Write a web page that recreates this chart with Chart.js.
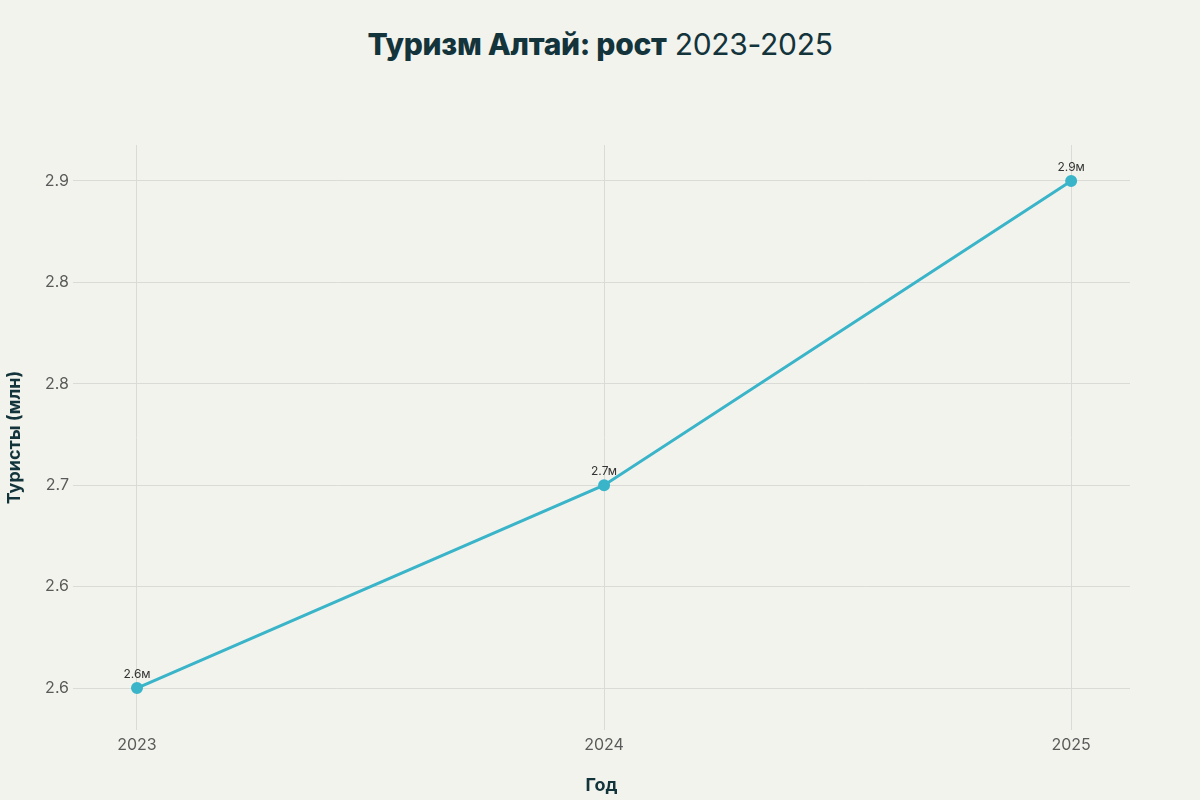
<!DOCTYPE html>
<html>
<head>
<meta charset="utf-8">
<script src="https://cdn.jsdelivr.net/npm/chart.js@4.4.1/dist/chart.umd.min.js"></script>
<style>
  html, body { margin: 0; padding: 0; background: #f3f3ee; }
  #wrap { position: relative; width: 1200px; height: 800px; }
  #title {
    position: absolute; top: 26px; left: 0; width: 1200px; text-align: center;
    font-family: Inter, "Noto Sans", sans-serif; font-size: 30px; color: #13343b;
    letter-spacing: -0.3px;
  }
  #title b { font-weight: 800; }
  #title span { font-weight: 400; }
  canvas { position: absolute; top: 0; left: 0; }
</style>
</head>
<body>
<div id="wrap">
  <div id="title"><b>Туризм Алтай: рост</b> <span>2023-2025</span></div>
  <canvas id="chart" width="1200" height="800"></canvas>
</div>
<script>
const years = [2023, 2024, 2025];
const tourists = [2.6, 2.7, 2.85];
const pointLabels = ["2.6м", "2.7м", "2.9м"];
const yTicks = [2.6, 2.65, 2.7, 2.75, 2.8, 2.85];
const yTickLabels = ["2.6", "2.6", "2.7", "2.8", "2.8", "2.9"];

const LINE = "#3ab4c8";
const GRID = "#dadad6";
const TICK = "#5a5a5a";
const DARK = "#13343b";

const pointLabelPlugin = {
  id: "pointLabels",
  afterDatasetsDraw(chart) {
    const { ctx } = chart;
    const meta = chart.getDatasetMeta(0);
    ctx.save();
    ctx.font = "12px Inter, 'Noto Sans', sans-serif";
    ctx.fillStyle = "#333";
    ctx.textAlign = "center";
    ctx.textBaseline = "bottom";
    meta.data.forEach((pt, i) => ctx.fillText(pointLabels[i], pt.x, pt.y - 8));
    ctx.restore();
  }
};

new Chart(document.getElementById("chart"), {
  type: "line",
  data: {
    datasets: [{
      data: years.map((y, i) => ({ x: y, y: tourists[i] })),
      borderColor: LINE,
      backgroundColor: LINE,
      borderWidth: 3,
      pointRadius: 4.5,
      pointHoverRadius: 4.5,
      tension: 0,
    }]
  },
  options: {
    responsive: false,
    animation: false,
    layout: { padding: { top: 145, right: 70, left: 0, bottom: 0 } },
    plugins: { legend: { display: false }, tooltip: { enabled: false } },
    scales: {
      x: {
        type: "linear",
        min: 2022.863,
        max: 2025.126,
        afterBuildTicks: s => { s.ticks = years.map(v => ({ value: v })); },
        afterFit: s => { s.height = 70; },
        grid: { color: GRID, drawTicks: false },
        border: { display: false },
        ticks: { color: TICK, padding: 6, font: { size: 16, family: "Inter, 'Noto Sans', sans-serif" }, callback: v => String(v) },
        title: { display: true, text: "Год", color: DARK, padding: { top: 16 }, font: { size: 18, weight: "bold", family: "Inter, 'Noto Sans', sans-serif" } }
      },
      y: {
        min: 2.5793,
        max: 2.8677,
        afterBuildTicks: s => { s.ticks = yTicks.map(v => ({ value: v })); },
        afterFit: s => { s.width = 73; },
        grid: { color: GRID, drawTicks: false },
        border: { display: false },
        ticks: { color: TICK, padding: 4, font: { size: 16, family: "Inter, 'Noto Sans', sans-serif" }, callback: (v, i) => yTickLabels[i] },
        title: { display: true, text: "Туристы (млн)", color: DARK, padding: { top: 4, bottom: 10 }, font: { size: 18, weight: "bold", family: "Inter, 'Noto Sans', sans-serif" } }
      }
    }
  },
  plugins: [pointLabelPlugin]
});
</script>
</body>
</html>
